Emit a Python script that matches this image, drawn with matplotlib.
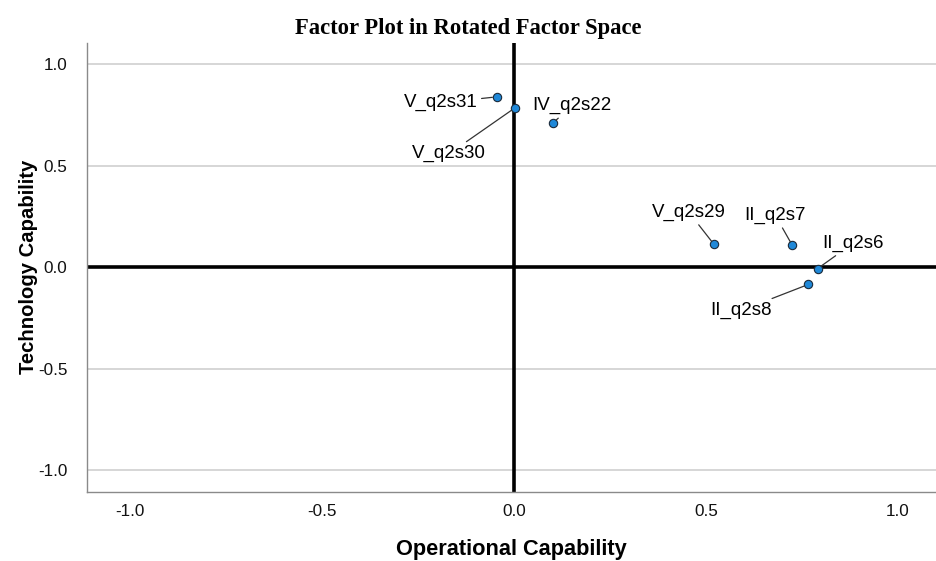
import matplotlib
matplotlib.use("Agg")
import matplotlib.pyplot as plt

labels = ["V_q2s31", "V_q2s30", "IV_q2s22", "V_q2s29", "II_q2s7", "II_q2s6", "II_q2s8"]
x_vals = [-0.045, 0.003, 0.102, 0.521, 0.725, 0.791, 0.767]
y_vals = [0.839, 0.785, 0.711, 0.113, 0.108, -0.006, -0.084]
# label offsets in pixels
offsets = [(-56, -6), (-66, -46), (19, 17), (-25, 32), (-17, 30), (35, 25), (-67, -26)]
ticks = [-1.0, -0.5, 0.0, 0.5, 1.0]
tick_labels = ["-1.0", "-0.5", "0.0", "0.5", "1.0"]

plt.rcParams['font.family'] = ['Liberation Sans', 'DejaVu Sans']
fig = plt.figure(figsize=(9.36, 5.61), dpi=100)
ax = fig.add_axes([0.093, 0.123, 0.907, 0.801])
ax.set_xlim(-1.111, 1.099)
ax.set_ylim(-1.106, 1.106)

ax.set_yticks(ticks)
ax.set_yticklabels(tick_labels)
ax.set_xticks(ticks)
ax.set_xticklabels(tick_labels)
ax.yaxis.grid(True, color="#cfcfcf", linewidth=1.2)
ax.set_axisbelow(True)
ax.tick_params(length=0, labelsize=12.3, labelcolor="#111111")
ax.tick_params(axis="x", pad=9)
ax.tick_params(axis="y", pad=14)
for s in ["top", "right"]:
    ax.spines[s].set_visible(False)
for s in ["left", "bottom"]:
    ax.spines[s].set_color("#8a8a8a")
    ax.spines[s].set_linewidth(1.0)

ax.axhline(0, color="black", linewidth=2.6, zorder=2)
ax.axvline(0, color="black", linewidth=2.6, zorder=2)

ax.scatter(x_vals, y_vals, s=36, color="#1f88d8", edgecolors="#1a2a3a", linewidths=0.8, zorder=4)

for lab, x, y, (dx, dy) in zip(labels, x_vals, y_vals, offsets):
    ax.annotate(lab, xy=(x, y), xytext=(dx, dy), textcoords="offset pixels",
                ha="center", va="center", fontsize=13.5,
                arrowprops=dict(arrowstyle="-", color="#333333", lw=0.9, shrinkA=1, shrinkB=3),
                zorder=5)

ax.set_xlabel("Operational Capability", fontsize=15.7, fontweight="bold", labelpad=14)
ax.set_ylabel("Technology Capability", fontsize=14.6, fontweight="bold", labelpad=0)
ax.yaxis.set_label_coords(-0.058, 0.5)
fig.suptitle("Factor Plot in Rotated Factor Space", fontsize=16.3, fontweight="bold",
             family=["Liberation Serif", "DejaVu Serif"], y=0.968)

fig.savefig("out.png", dpi=100)
